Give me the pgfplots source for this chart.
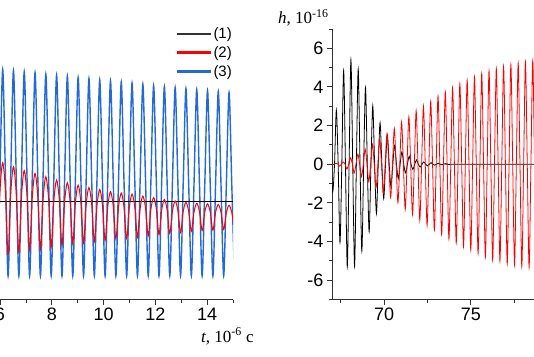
\documentclass[border=0pt]{standalone}
\usepackage{pgfplots}
\pgfplotsset{compat=1.18}
\usepackage{fontspec}
\setmainfont{Liberation Sans}
\newfontfamily\timesf{Liberation Serif}
\definecolor{cblue}{RGB}{35,105,215}
\definecolor{cred}{RGB}{255,0,0}
\definecolor{axgray}{RGB}{50,50,50}
\pgfplotsset{
  mystyle/.style={
    scale only axis,
    axis x line*=bottom, axis y line*=left,
    tick align=outside,
    major tick length=5pt, minor tick length=3pt,
    every tick/.style={axgray, line width=0.8pt},
    axis line style={axgray, line width=0.8pt},
    tick label style={font=\fontsize{18}{18}\selectfont, text=black},
    /pgf/number format/assume math mode=true,
    clip=true,
  }
}
\begin{document}
\begin{tikzpicture}
\begin{scope}
\clip (0pt,0pt) rectangle (534pt,356pt);
% ---------------- left panel ----------------
\begin{scope}[shift={(-25.9pt,56.5pt)}]
\begin{axis}[mystyle, at={(0pt,0pt)}, anchor=south west,
  width=259pt, height=271pt, xmin=5, xmax=15, ymin=-4.9, ymax=8.65,
  xtick={6,8,10,12,14}, minor xtick={7,9,11,13,15}, ytick=\empty,
  legend image code/.code={\fill[#1] (0pt,-0.9pt) rectangle (33pt,0.9pt);},
  legend style={draw=none, fill=none, inner sep=0pt, row sep=4.5pt, column sep=2pt,
    nodes={inner sep=1pt, font=\fontsize{15}{15}\selectfont},
    at={(axis description cs:0.783,1.008)}, anchor=north west},
  legend cell align=left]
\addlegendimage{black!80}\addlegendentry{(1)}
\addlegendimage{cred}\addlegendentry{(2)}
\addlegendimage{cblue}\addlegendentry{(3)}
\addplot[cblue, line width=1.4pt, smooth, forget plot] coordinates {
(5.688,6.65) (5.792,1.46) (5.896,-3.72) (6.000,1.44)
(6.104,6.60) (6.208,1.44) (6.312,-3.72) (6.416,1.42)
(6.520,6.55) (6.624,1.42) (6.728,-3.72) (6.832,1.38)
(6.936,6.49) (7.040,1.38) (7.144,-3.72) (7.249,1.36)
(7.353,6.44) (7.457,1.36) (7.561,-3.72) (7.665,1.32)
(7.769,6.37) (7.873,1.32) (7.977,-3.72) (8.081,1.30)
(8.185,6.32) (8.289,1.30) (8.393,-3.72) (8.497,1.27)
(8.601,6.27) (8.705,1.27) (8.809,-3.72) (8.913,1.24)
(9.017,6.20) (9.121,1.24) (9.226,-3.72) (9.330,1.22)
(9.434,6.15) (9.538,1.22) (9.642,-3.72) (9.746,1.18)
(9.850,6.09) (9.954,1.18) (10.058,-3.72) (10.162,1.16)
(10.266,6.04) (10.370,1.16) (10.474,-3.72) (10.578,1.12)
(10.682,5.97) (10.786,1.12) (10.890,-3.72) (10.994,1.10)
(11.098,5.92) (11.203,1.10) (11.307,-3.72) (11.411,1.07)
(11.515,5.87) (11.619,1.07) (11.723,-3.72) (11.827,1.04)
(11.931,5.80) (12.035,1.04) (12.139,-3.72) (12.243,1.02)
(12.347,5.75) (12.451,1.02) (12.555,-3.72) (12.659,0.99)
(12.763,5.70) (12.867,0.99) (12.971,-3.72) (13.075,0.97)
(13.179,5.65) (13.283,0.97) (13.388,-3.72) (13.492,0.94)
(13.596,5.60) (13.700,0.94) (13.804,-3.72) (13.908,0.92)
(14.012,5.55) (14.116,0.92) (14.220,-3.72) (14.324,0.89)
(14.428,5.50) (14.532,0.89) (14.636,-3.72) (14.740,0.87)
(14.844,5.45) (14.948,0.87) (15.052,-3.72)
};
\addplot[black, line width=1pt, forget plot] coordinates {(5,0) (15,0)};
\addplot[cred, line width=1pt, smooth, forget plot] coordinates {
(5.688,2.10) (5.792,0.645) (5.896,-2.75) (6.000,0.533)
(6.104,1.94) (6.208,0.563) (6.312,-2.65) (6.416,0.423)
(6.520,1.74) (6.624,0.456) (6.728,-2.54) (6.832,0.323)
(6.936,1.55) (7.040,0.365) (7.144,-2.40) (7.249,0.260)
(7.353,1.40) (7.457,0.269) (7.561,-2.37) (7.665,0.157)
(7.769,1.24) (7.873,0.181) (7.977,-2.29) (8.081,0.062)
(8.185,1.07) (8.289,0.089) (8.393,-2.20) (8.497,-0.002)
(8.601,0.94) (8.705,0.028) (8.809,-2.10) (8.913,-0.056)
(9.017,0.82) (9.121,-0.047) (9.226,-2.07) (9.330,-0.131)
(9.434,0.70) (9.538,-0.110) (9.642,-2.00) (9.746,-0.180)
(9.850,0.60) (9.954,-0.162) (10.058,-1.94) (10.162,-0.239)
(10.266,0.49) (10.370,-0.218) (10.474,-1.87) (10.578,-0.267)
(10.682,0.42) (10.786,-0.261) (10.890,-1.85) (10.994,-0.296)
(11.098,0.37) (11.203,-0.278) (11.307,-1.79) (11.411,-0.348)
(11.515,0.27) (11.619,-0.327) (11.723,-1.72) (11.827,-0.383)
(11.931,0.19) (12.035,-0.362) (12.139,-1.65) (12.243,-0.425)
(12.347,0.10) (12.451,-0.410) (12.555,-1.60) (12.659,-0.466)
(12.763,0.02) (12.867,-0.451) (12.971,-1.55) (13.075,-0.493)
(13.179,-0.04) (13.283,-0.475) (13.388,-1.49) (13.492,-0.510)
(13.596,-0.09) (13.700,-0.498) (13.804,-1.45) (13.908,-0.519)
(14.012,-0.12) (14.116,-0.516) (14.220,-1.44) (14.324,-0.537)
(14.428,-0.15) (14.532,-0.525) (14.636,-1.40) (14.740,-0.553)
(14.844,-0.19) (14.948,-0.547) (15.052,-1.38)
};
\end{axis}
\end{scope}
% ---------------- right panel ----------------
\begin{scope}[shift={(332pt,56.5pt)}]
\begin{axis}[mystyle, at={(0pt,0pt)}, anchor=south west,
  width=225.55pt, height=270.6pt, xmin=67, xmax=80, ymin=-7, ymax=7,
  xtick={70,75,80}, minor xtick={67.5,72.5,77.5},
  ytick={-6,-4,...,6}, minor ytick={-7,-5,...,7}]
\addplot[black, line width=0.8pt, smooth] coordinates {
(66.935,0) (67.04,-1.43) (67.145,0) (67.25,2.80) (67.355,0) (67.46,-4.05)
(67.565,0) (67.67,4.85) (67.775,0) (67.88,-5.30) (67.985,0) (68.09,5.42)
(68.195,0) (68.30,-5.28) (68.405,0) (68.51,4.92) (68.615,0) (68.72,-4.50)
(68.825,0) (68.93,3.98) (69.035,0) (69.14,-3.50) (69.245,0) (69.35,3.02)
(69.455,0) (69.56,-2.55) (69.665,0) (69.77,2.15) (69.875,0) (69.98,-1.78)
(70.085,0) (70.19,1.50) (70.295,0) (70.40,-1.17) (70.505,0) (70.61,0.98)
(70.715,0) (70.82,-0.74) (70.925,0) (71.03,0.64) (71.135,0) (71.24,-0.45)
(71.345,0) (71.45,0.41) (71.555,0) (71.66,-0.27) (71.765,0) (71.87,0.22)
(71.975,0) (72.08,-0.15) (72.185,0) (72.29,0.12) (72.395,0) (72.50,-0.09)
(72.605,0) (72.71,0.08) (72.815,0) (72.92,-0.05) (73.025,0) (73.13,0.05)
(73.235,0) (73.34,-0.03) (73.445,0) (73.55,0.03) (73.655,0) (73.76,-0.02)
(73.865,0) (74.0,0) (80,0)
};
\addplot[cred, line width=0.8pt, smooth] coordinates {
(66.9,0) (67.02,-0.03) (67.125,0) (67.23,0.05) (67.335,0) (67.44,-0.10)
(67.545,0) (67.65,0.12) (67.755,0) (67.86,-0.25) (67.965,0) (68.07,0.33)
(68.175,0) (68.28,-0.45) (68.385,0) (68.49,0.52) (68.595,0) (68.70,-0.65)
(68.805,0) (68.91,0.78) (69.015,0) (69.12,-0.91) (69.225,0) (69.33,1.04)
(69.435,0) (69.54,-1.20) (69.645,0) (69.75,1.28) (69.855,0) (69.96,-1.48)
(70.065,0) (70.17,1.59) (70.275,0) (70.38,-1.72) (70.485,0) (70.59,1.85)
(70.695,0) (70.80,-1.98) (70.905,0) (71.01,2.19) (71.115,0) (71.22,-2.34)
(71.325,0) (71.43,2.45) (71.535,0) (71.64,-2.60) (71.745,0) (71.85,2.76)
(71.955,0) (72.06,-2.90) (72.165,0) (72.27,3.00) (72.375,0) (72.48,-3.16)
(72.585,0) (72.69,3.26) (72.795,0) (72.90,-3.41) (73.005,0) (73.11,3.52)
(73.215,0) (73.32,-3.64) (73.425,0) (73.53,3.74) (73.635,0) (73.74,-3.88)
(73.845,0) (73.95,3.97) (74.055,0) (74.16,-4.07) (74.265,0) (74.37,4.17)
(74.475,0) (74.58,-4.28) (74.685,0) (74.79,4.35) (74.895,0) (75.00,-4.45)
(75.105,0) (75.21,4.52) (75.315,0) (75.42,-4.62) (75.525,0) (75.63,4.69)
(75.735,0) (75.84,-4.80) (75.945,0) (76.05,4.83) (76.155,0) (76.26,-4.97)
(76.365,0) (76.47,4.95) (76.575,0) (76.68,-5.02) (76.785,0) (76.89,5.07)
(76.995,0) (77.10,-5.14) (77.205,0) (77.31,5.16) (77.415,0) (77.52,-5.22)
(77.625,0) (77.73,5.24) (77.835,0) (77.94,-5.31) (78.045,0) (78.15,5.29)
(78.255,0) (78.36,-5.35) (78.465,0) (78.57,5.34) (78.675,0) (78.78,-5.38)
(78.885,0) (78.99,5.38)
};
\end{axis}
\end{scope}
\end{scope}
\node[font=\timesf\fontsize{17}{17}\selectfont, anchor=base west, inner sep=0pt] at (201pt,14pt) {\textit{t}, 10\textsuperscript{-6} c};
\node[font=\timesf\fontsize{17}{17}\selectfont, anchor=base west, inner sep=0pt] at (278pt,332pt) {\textit{h}, 10\textsuperscript{-16}};
\pgfresetboundingbox
\path[use as bounding box] (0pt,0pt) rectangle (534pt,356pt);
\end{tikzpicture}
\end{document}
